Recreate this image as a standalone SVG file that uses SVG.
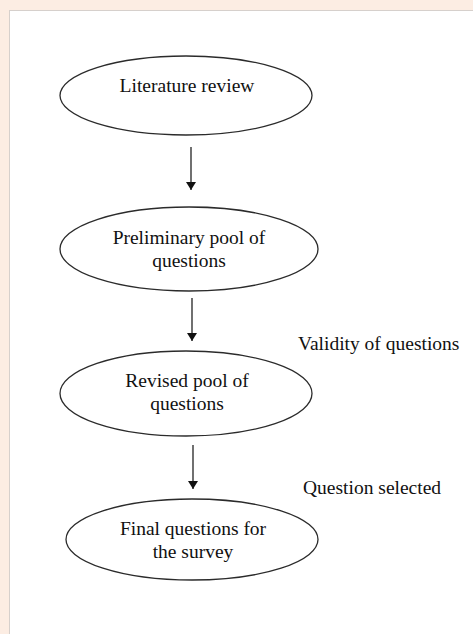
<svg xmlns="http://www.w3.org/2000/svg" width="473" height="634" viewBox="0 0 473 634" font-family="'Liberation Serif', 'DejaVu Serif', serif">
<style>
.n ellipse{fill:#fff;stroke:#2b2b2b;stroke-width:1.3}
text{font-family:'Liberation Serif','DejaVu Serif',serif;font-size:19.5px;fill:#111}
.c{text-anchor:middle}
#connectors line{stroke:#111;stroke-width:1.2}
</style>
<defs>
<marker id="ah" viewBox="0 0 8 10" refX="8" refY="5" markerWidth="8" markerHeight="10" markerUnits="userSpaceOnUse" orient="auto">
<path d="M0,0 L8,5 L0,10 Z" fill="#111"/>
</marker>
</defs>
<rect width="473" height="634" fill="#FCEDE3"/>
<rect x="9.5" y="10.5" width="470" height="630" fill="#fff" stroke="#D6D0CC" stroke-width="1"/>
<g id="n1" class="n">
<ellipse cx="186" cy="95.5" rx="126" ry="39.5"/>
<text class="c" x="187" y="92">Literature review</text>
</g>
<g id="n2" class="n">
<ellipse cx="189" cy="249" rx="129" ry="42"/>
<text class="c" x="189" y="244">Preliminary pool of</text>
<text class="c" x="189" y="267">questions</text>
</g>
<g id="n3" class="n">
<ellipse cx="186" cy="393.5" rx="126" ry="42.5"/>
<text class="c" x="187" y="387">Revised pool of</text>
<text class="c" x="187" y="410">questions</text>
</g>
<g id="n4" class="n">
<ellipse cx="192" cy="539.5" rx="126" ry="40.5"/>
<text class="c" x="193" y="535">Final questions for</text>
<text class="c" x="193" y="558">the survey</text>
</g>
<g id="connectors">
<line x1="191" y1="147" x2="191" y2="190" marker-end="url(#ah)"/>
<line x1="192" y1="298" x2="192" y2="341" marker-end="url(#ah)"/>
<line x1="193" y1="445" x2="193" y2="489" marker-end="url(#ah)"/>
</g>
<g id="labels">
<text x="298" y="350">Validity of questions</text>
<text x="303" y="494">Question selected</text>
</g>
</svg>
